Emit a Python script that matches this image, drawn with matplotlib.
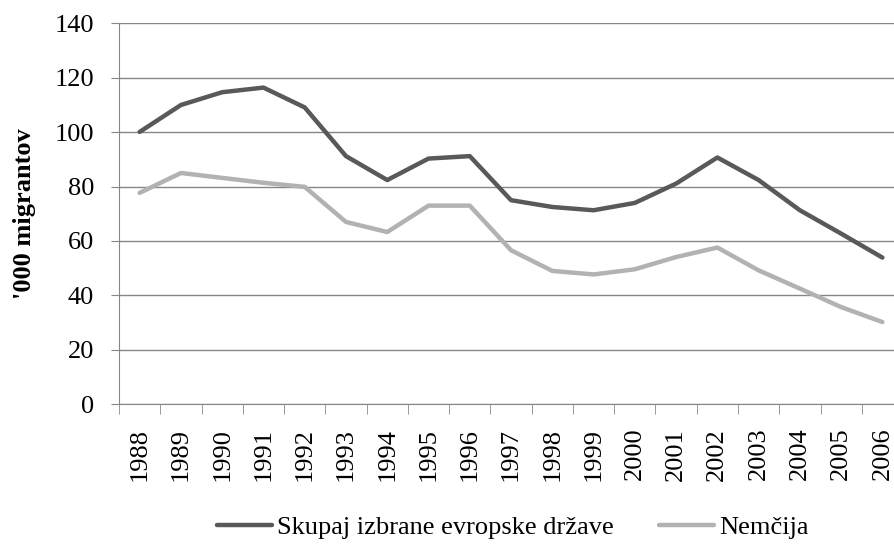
import numpy as np
import matplotlib
matplotlib.use("Agg")
import matplotlib.pyplot as plt

plt.rcParams['font.family'] = ['Liberation Serif', 'DejaVu Serif']

# === Data ===
years = [str(y) for y in range(1988, 2007)]
skupaj = [100.1, 110, 114.7, 116.4, 109.1, 91.2, 82.4, 90.3, 91.2, 75, 72.5,
          71.3, 74, 81.1, 90.7, 82.4, 71.3, 62.7, 53.9]
nemcija = [77.7, 85, 83.2, 81.4, 79.9, 67, 63.3, 73, 73, 56.6, 49,
           47.7, 49.6, 54.1, 57.6, 49.2, 42.5, 35.7, 30.2]
labels = ["Skupaj izbrane evropske države", "Nemčija"]
y_ticks = [0, 20, 40, 60, 80, 100, 120, 140]

FS = 19

fig = plt.figure(figsize=(8.95, 5.44), dpi=100)
ax = fig.add_axes([0.133, 0.257, 0.876, 0.700])

x = np.arange(len(years))
ax.plot(x, skupaj, color="#595959", lw=3.2, label=labels[0], solid_capstyle="round")
ax.plot(x, nemcija, color="#b2b2b2", lw=3.2, label=labels[1], solid_capstyle="round")

ax.set_xlim(-0.5, len(years) - 0.5)
ax.set_ylim(0, 140)
ax.set_yticks(y_ticks)
ax.set_yticklabels([str(v) for v in y_ticks], fontsize=FS)
ax.yaxis.grid(True, color="#868686", lw=1)
ax.set_axisbelow(True)

# year labels centred, tick marks between categories
ax.set_xticks(x)
ax.set_xticklabels(years, rotation=90, fontsize=FS)
ax.set_xticks(np.arange(-0.5, len(years), 1), minor=True)
ax.tick_params(axis="x", which="major", length=0, pad=17)
ax.tick_params(axis="x", which="minor", length=7, color="#868686")
ax.tick_params(axis="y", length=6, color="#868686", pad=12)

for s in ["top", "right"]:
    ax.spines[s].set_visible(False)
ax.spines["left"].set_color("#868686")
ax.spines["bottom"].set_color("#868686")

ax.set_ylabel("'000 migrantov", fontsize=FS, fontweight="bold", labelpad=13)

fig.legend(loc="center", bbox_to_anchor=(0.573, 0.03), ncol=2, frameon=False,
           fontsize=FS, handlelength=2.1, handletextpad=0.2, columnspacing=1.7)

fig.savefig("out.png", dpi=100)
